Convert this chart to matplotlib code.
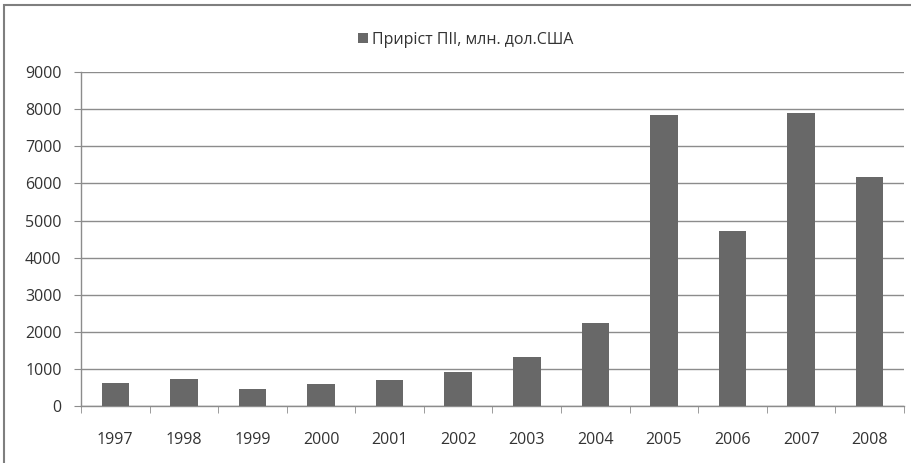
import matplotlib
matplotlib.use("Agg")
import matplotlib.pyplot as plt
from matplotlib.patches import Rectangle
import numpy as np

plt.rcParams['font.family'] = ['Open Sans', 'DejaVu Sans']

years = ['1997', '1998', '1999', '2000', '2001', '2002', '2003', '2004', '2005', '2006', '2007', '2008']
values = [610, 730, 460, 590, 690, 900, 1310, 2235, 7845, 4710, 7900, 6175]
series_name = 'Приріст ПІІ, млн. дол.США'
y_ticks = [0, 1000, 2000, 3000, 4000, 5000, 6000, 7000, 8000, 9000]

bar_color = '#686868'
grid_color = '#8c8c8c'
text_color = '#333333'

fig = plt.figure(figsize=(9.12, 4.63), dpi=100)
fig.patches.append(Rectangle((4/912, -0.1), 1.2, 1 - 5/463 + 0.1, transform=fig.transFigure,
                             fill=False, edgecolor='#7f7f7f', linewidth=1.5))
ax = fig.add_axes([81/912, 1 - 405.8/463, (904 - 81)/912, (405.8 - 72.3)/463])

x = np.arange(len(years))
bars = ax.bar(x, values, width=0.40, color=bar_color, zorder=3, label=series_name)

ax.set_xlim(-0.5, len(years) - 0.5)
ax.set_ylim(0, 9000)
ax.set_yticks(y_ticks)
ax.set_yticklabels([str(t) for t in y_ticks], fontsize=11.5, color=text_color)
ax.yaxis.grid(True, color=grid_color, linewidth=1.0, zorder=0)
ax.set_axisbelow(True)

ax.set_xticks(x)
ax.set_xticklabels(years, fontsize=11.5, color=text_color)
ax.tick_params(axis='x', which='major', length=0, pad=19)
ax.set_xticks(np.arange(-0.5, len(years) + 0.5, 1), minor=True)
ax.tick_params(axis='x', which='minor', length=5, color=grid_color, direction='out')
ax.tick_params(axis='y', length=5, color=grid_color, pad=9)

for s in ['top', 'right']:
    ax.spines[s].set_visible(False)
for s in ['left', 'bottom']:
    ax.spines[s].set_color(grid_color)
    ax.spines[s].set_linewidth(1.0)

fig.legend(handles=[bars], labels=[series_name], loc='center', bbox_to_anchor=(466/912, 1 - 40/463),
           frameon=False, fontsize=11.5, handlelength=0.6, handleheight=0.6, handletextpad=0.3,
           labelcolor=text_color)

fig.savefig('out.png', dpi=100)
